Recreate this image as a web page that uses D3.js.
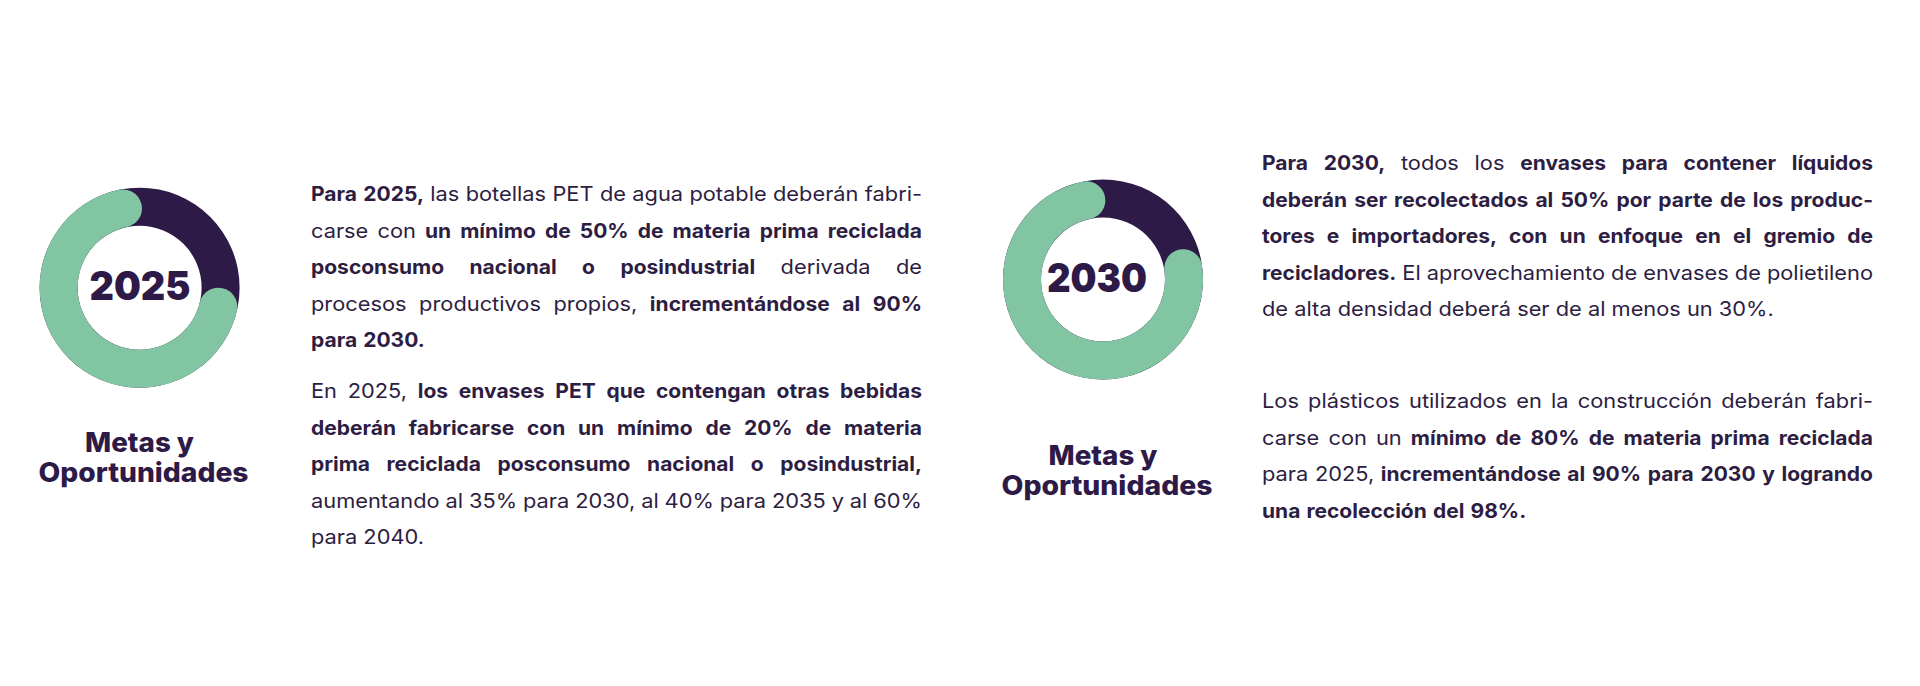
<!DOCTYPE html>
<html><head><meta charset="utf-8">
<script src="https://cdn.jsdelivr.net/npm/d3@7/dist/d3.min.js"></script>
<style>html,body{margin:0;padding:0;background:#fff}svg{display:block}</style>
</head><body>
<svg id="chart"></svg>
<script>
// ---------- DATA ----------
const years = ["2025", "2030"];
const darkShare = [25, 19];   // dark (remaining) part of each ring, %
const greenShare = [75, 81];  // green (goal) part of each ring, %
const labelLines = ["Metas y", "Oportunidades"];

const leftParagraphs = [
  [
    [["Para 2025,", 1], ["las botellas PET de agua potable deberán fabri-", 0]],
    [["carse con", 0], ["un mínimo de 50% de materia prima reciclada", 1]],
    [["posconsumo nacional o posindustrial", 1], ["derivada de", 0]],
    [["procesos productivos propios,", 0], ["incrementándose al 90%", 1]],
    [["para 2030.", 1]]
  ],
  [
    [["En 2025,", 0], ["los envases PET que contengan otras bebidas", 1]],
    [["deberán fabricarse con un mínimo de 20% de materia", 1]],
    [["prima reciclada posconsumo nacional o posindustrial,", 1]],
    [["aumentando al 35% para 2030, al 40% para 2035 y al 60%", 0]],
    [["para 2040.", 0]]
  ]
];
const rightParagraphs = [
  [
    [["Para 2030,", 1], ["todos los", 0], ["envases para contener líquidos", 1]],
    [["deberán ser recolectados al 50% por parte de los produc-", 1]],
    [["tores e importadores, con un enfoque en el gremio de", 1]],
    [["recicladores.", 1], ["El aprovechamiento de envases de polietileno", 0]],
    [["de alta densidad deberá ser de al menos un 30%.", 0]]
  ],
  [
    [["Los plásticos utilizados en la construcción deberán fabri-", 0]],
    [["carse con un", 0], ["mínimo de 80% de materia prima reciclada", 1]],
    [["para 2025,", 0], ["incrementándose al 90% para 2030 y logrando", 1]],
    [["una recolección del 98%.", 1]]
  ]
];

// ---------- LAYOUT / STYLE ----------
const W = 1920, H = 686;
const DARK = "#2e1a47", GREEN = "#82c5a3", TEXT = "#2d1d42";
const BODY_FONT = "Inter, 'Open Sans', 'Noto Sans', sans-serif";
const TITLE_FONT = "Inter, 'Noto Sans', 'DejaVu Sans', sans-serif";
const FS = 20;
const STRETCH_REG = 1.09, STRETCH_BOLD = 1.05;

const donuts = [
  { cx: 139.6, cy: 287.7, yearX: 140, yearBase: 300, yearW: 101,
    labelX: [139.5, 143.5], labelBase: [452, 482], labelW: [109, 210] },
  { cx: 1103, cy: 279.5, yearX: 1097, yearBase: 292, yearW: 100,
    labelX: [1103, 1107], labelBase: [465, 495], labelW: [109, 211] }
];
const blocks = [
  { x: 311, w: 611, base: [201, 398], lh: 36.5, paras: leftParagraphs },
  { x: 1262, w: 611, base: [170, 408], lh: 36.6, paras: rightParagraphs }
];

const svg = d3.select("#chart").attr("width", W).attr("height", H);
svg.append("rect").attr("width", W).attr("height", H).attr("fill", "#fff");

const R = 100, r = 62;
const ring = d3.arc().innerRadius(r).outerRadius(R);
const goalArc = d3.arc().innerRadius(r).outerRadius(R).cornerRadius((R - r) / 2);
const pie = d3.pie().sort(null).value(d => d.v);

years.forEach((yr, i) => {
  const L = donuts[i];
  const g = svg.append("g").attr("transform", `translate(${L.cx},${L.cy})`);
  const slices = pie([{ k: "dark", v: darkShare[i] }, { k: "green", v: greenShare[i] }]);
  g.append("path").attr("d", ring({ startAngle: 0, endAngle: 2 * Math.PI })).attr("fill", DARK);
  const gs = slices[1];
  g.append("path").attr("d", goalArc({ startAngle: gs.startAngle, endAngle: gs.endAngle + 0.03 })).attr("fill", GREEN);

  svg.append("text").attr("x", L.yearX).attr("y", L.yearBase)
    .attr("text-anchor", "middle").attr("font-family", TITLE_FONT)
    .attr("font-weight", 900).attr("font-size", 40).attr("fill", DARK)
    .attr("textLength", L.yearW).attr("lengthAdjust", "spacingAndGlyphs")
    .text(yr);

  labelLines.forEach((t, j) => {
    svg.append("text").attr("x", L.labelX[j]).attr("y", L.labelBase[j])
      .attr("text-anchor", "middle").attr("font-family", TITLE_FONT)
      .attr("font-weight", 800).attr("font-size", 27).attr("fill", DARK)
      .attr("textLength", L.labelW[j]).attr("lengthAdjust", "spacingAndGlyphs")
      .text(t);
  });
});

function spaceWidth(weight) {
  const t = svg.append("text").attr("font-family", BODY_FONT).attr("font-size", FS).attr("font-weight", weight);
  t.text("a a"); const a = t.node().getComputedTextLength();
  t.text("aa"); const b = t.node().getComputedTextLength();
  t.remove(); return (a - b) * STRETCH_REG;
}
const SP = spaceWidth(400);

blocks.forEach(B => {
  const g = svg.append("g");
  B.paras.forEach((lines, p) => {
    lines.forEach((segs, i) => {
      const y = B.base[p] + i * B.lh;
      const words = [];
      segs.forEach(([t, b]) => t.split(" ").forEach(w => { if (w) words.push({ w, b }); }));
      const ts = g.append("g").selectAll("text").data(words).join("text")
        .attr("y", y).attr("font-family", BODY_FONT).attr("font-size", FS)
        .attr("fill", TEXT).attr("font-weight", d => d.b ? 700 : 400).text(d => d.w);
      ts.each(function (d) {
        d.len = this.getComputedTextLength() * (d.b ? STRETCH_BOLD : STRETCH_REG);
      });
      let sum = d3.sum(words, d => d.len);
      const last = i === lines.length - 1;
      const n = words.length;
      let gap = (last || n < 2) ? SP : (B.w - sum) / (n - 1);
      if (!last && n > 1 && gap < SP * 0.8) {
        gap = SP * 0.8;
        const k = (B.w - gap * (n - 1)) / sum;
        words.forEach(d => d.len *= k);
      }
      ts.attr("textLength", d => d.len).attr("lengthAdjust", "spacingAndGlyphs");
      let x = B.x;
      ts.attr("x", d => { const v = x; x += d.len + gap; return v; });
    });
  });
});
</script>
</body></html>
